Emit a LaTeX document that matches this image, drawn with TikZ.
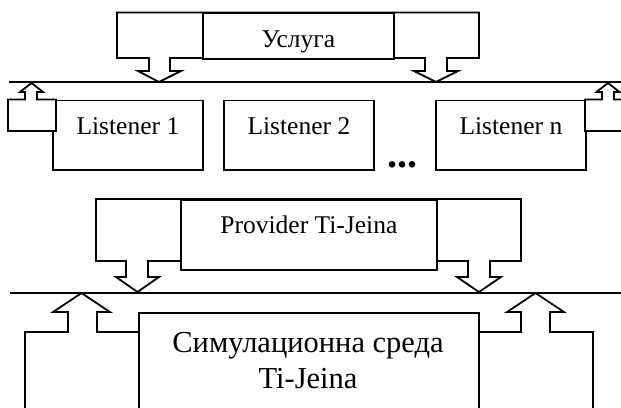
\documentclass[tikz,border=0pt]{standalone}
\usepackage{fontspec}
\setmainfont{Liberation Serif}
\tikzset{
  outline/.style={draw=black, line width=1.8pt, line join=miter, fill=white},
  bus/.style={draw=black, line width=1.8pt},
  textfont/.style={font=\fontsize{25.5}{30}\selectfont},
  labelbox/.style={outline, rectangle, inner sep=0pt, anchor=north west, textfont},
  listenerbox/.style={labelbox, minimum width=150pt, text height=34.5pt, text depth=35pt},
}
\begin{document}
\begin{tikzpicture}[x=1pt, y=-1pt]
  \useasboundingbox (0,0) rectangle (621,407);
  \clip (0,0) rectangle (621,407);

  % service frame with its two block arrows down to the upper bus
  \draw[outline] (117,12.5) -- (479,12.5) -- (479,58) -- (447,58) -- (447,71)
    -- (458,71) -- (436,82) -- (414,71) -- (425,71) -- (425,58) -- (170,58)
    -- (170,71) -- (181,71) -- (159,82) -- (138,71) -- (149,71) -- (149,58)
    -- (117,58) -- cycle;
  \node[labelbox, minimum width=191pt, text height=34.5pt, text depth=11pt]
    (service) at (202,12.5) {Услуга};

  % upper bus
  \coordinate (bus1w) at (9,82);
  \coordinate (bus1e) at (626,82);
  \draw[bus] (bus1w) -- (bus1e);

  % listeners
  \node[listenerbox] (lst1) at (52,99.5) {Listener 1};
  \node[listenerbox] (lst2) at (223,99.5) {Listener 2};
  \node[listenerbox] (lstn) at (435,99.5) {Listener n};

  % feedback loops from the outer listeners up to the bus
  \draw[outline] (56,99.5) -- (37,99.5) -- (37,92) -- (43,92) -- (31.5,83)
    -- (20,92) -- (25,92) -- (25,99.5) -- (8,99.5) -- (8,131) -- (56,131) -- cycle;
  \draw[outline] (585,99.5) -- (602,99.5) -- (602,92) -- (596.5,92) -- (608,83)
    -- (619.5,92) -- (614,92) -- (614,99.5) -- (633,99.5) -- (633,131)
    -- (585,131) -- cycle;

  \node[font=\bfseries\fontsize{40}{44}\selectfont, inner sep=0pt, anchor=base]
    (dots) at (402,167) {...};

  % provider frame with its two block arrows down to the lower bus
  \draw[outline] (96,199) -- (521,199) -- (521,261) -- (490,261) -- (490,277)
    -- (501,277) -- (479,292) -- (457,277) -- (468,277) -- (468,261) -- (148,261)
    -- (148,277) -- (159,277) -- (137.5,292) -- (116,277) -- (126,277) -- (126,261)
    -- (96,261) -- cycle;
  \node[labelbox, minimum width=256pt, text height=34pt, text depth=36pt]
    (provider) at (180,199) {Provider Ti-Jeina};

  % lower bus
  \coordinate (bus2w) at (10,293);
  \coordinate (bus2e) at (626,293);
  \draw[bus] (bus2w) -- (bus2e);

  % simulation environment frame with two block arrows up to the lower bus
  \draw[outline] (25,430) -- (25,332) -- (68,332) -- (68,312) -- (53,312)
    -- (81.5,293) -- (110,312) -- (97,312) -- (97,332) -- (521,332) -- (521,312)
    -- (507,312) -- (535.5,293) -- (564,312) -- (550,312) -- (550,332)
    -- (593,332) -- (593,430) -- cycle;
  \node[labelbox, minimum width=340pt, minimum height=130pt] (sim) at (138,312) {};
  \node[font=\fontsize{30.5}{36}\selectfont, inner sep=0pt, anchor=base]
    (simline1) at (308,352) {Симулационна среда};
  \node[font=\fontsize{30.5}{36}\selectfont, inner sep=0pt, anchor=base]
    (simline2) at (308,388) {Ti-Jeina};
\end{tikzpicture}
\end{document}
